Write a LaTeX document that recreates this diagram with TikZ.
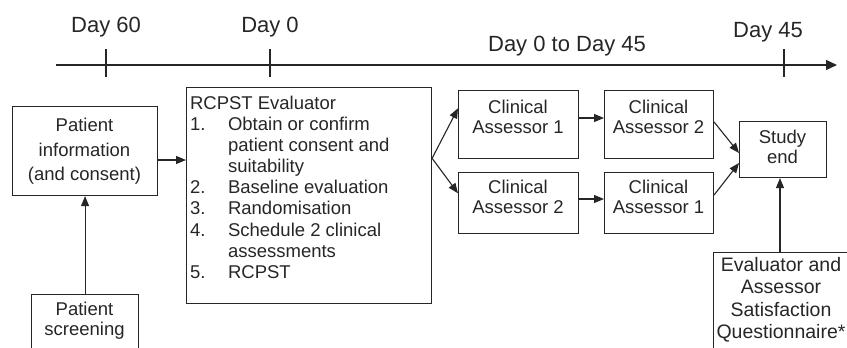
\documentclass[tikz,border=0pt]{standalone}
\usepackage{fontspec}
\setmainfont{Liberation Sans}
\usetikzlibrary{arrows.meta}
\begin{document}
\begin{tikzpicture}[x=1pt,y=-1pt,
  line width=1.1pt, color={black!85},
  box/.style={draw, rectangle, inner sep=0pt, anchor=north west},
  lbl/.style={font=\fontsize{22}{26}\selectfont, anchor=base, inner sep=0pt},
  txt/.style={font=\fontsize{18.5}{20}\selectfont, align=center, inner sep=0pt, anchor=base},
  arr/.style={-{Triangle[length=10pt,width=8pt]}},
  tarr/.style={-{Triangle[length=11pt,width=10pt]}},
]
\clip (0,0) rectangle (847,348);
% timeline
\coordinate (t0) at (56,65);
\coordinate (t1) at (837,65);
\draw[tarr] (t0) -- (t1);
\coordinate (k1a) at (106,49); \coordinate (k1b) at (106,77);
\coordinate (k2a) at (270,49); \coordinate (k2b) at (270,77);
\coordinate (k3a) at (784,49); \coordinate (k3b) at (784,77);
\draw (k1a) -- (k1b);
\draw (k2a) -- (k2b);
\draw (k3a) -- (k3b);
\node[lbl] (d60) at (106,32) {Day 60};
\node[lbl] (d0) at (270,32) {Day 0};
\node[lbl] (d45) at (768,37.5) {Day 45};
\node[lbl] (drange) at (567,51) {Day 0 to Day 45};

% boxes (text nodes anchored at the baseline of their last line)
\node[box, minimum width=145pt, minimum height=89pt] (pi) at (12,106) {};
\node[txt, font=\fontsize{18.5}{24.3}\selectfont] (pit) at (84.5,180.3) {Patient\\information\\(and consent)};

\node[box, minimum width=107pt, minimum height=80pt] (ps) at (31,294) {};
\node[txt] (pst) at (84.5,335) {Patient\\screening};

\node[box, minimum width=245pt, minimum height=216pt] (rc) at (186,87) {};
\node[anchor=base west, inner sep=0pt, align=left, font=\fontsize{18.5}{21.1}\selectfont] (rct) at (189.5,278.2)
{RCPST Evaluator\\
\makebox[38pt][l]{1.}Obtain or confirm\\
\hspace*{38pt}patient consent and\\
\hspace*{38pt}suitability\\
\makebox[38pt][l]{2.}Baseline evaluation\\
\makebox[38pt][l]{3.}Randomisation\\
\makebox[38pt][l]{4.}Schedule 2 clinical\\
\hspace*{38pt}assessments\\
\makebox[38pt][l]{5.}RCPST};

\node[box, minimum width=120pt, minimum height=68pt] (ca1t) at (458,90) {};
\node[txt] (ca1tt) at (518,133) {Clinical\\Assessor 1};
\node[box, minimum width=109pt, minimum height=68pt] (ca2t) at (604,90) {};
\node[txt] (ca2tt) at (658.5,133) {Clinical\\Assessor 2};

\node[box, minimum width=120pt, minimum height=61pt] (ca2b) at (458,172) {};
\node[txt] (ca2bt) at (518,213.5) {Clinical\\Assessor 2};
\node[box, minimum width=109pt, minimum height=61pt] (ca1b) at (604,172) {};
\node[txt] (ca1bt) at (658.5,213.5) {Clinical\\Assessor 1};

\node[box, minimum width=87pt, minimum height=56pt] (se) at (739,121) {};
\node[txt] (set) at (782.5,163.3) {Study\\end};

\node[box, minimum width=160pt, minimum height=120pt] (eq) at (713,252) {};
\node[txt, font=\fontsize{19.5}{22.2}\selectfont] (eqt) at (781,338.3) {Evaluator and\\Assessor\\Satisfaction\\Questionnaire*};

% connectors
\draw[arr] (pi.east |- 0,160) -- (rc.west |- 0,160);
\draw[arr] (ps.north) -- (pi.south);
\draw[arr] (rc.east |- 0,158.3) -- (ca1t.west |- 0,108.3);
\draw[arr] (rc.east |- 0,158.3) -- (ca2b.west |- 0,193.3);
\draw[arr] (ca1t.east |- 0,118) -- (ca2t.west |- 0,118);
\draw[arr] (ca2b.east |- 0,199) -- (ca1b.west |- 0,199);
\draw[arr] (ca2t.east |- 0,122) -- (se.west |- 0,153);
\draw[arr] (ca1b.east |- 0,195) -- (se.west |- 0,163);
\draw[arr] (eq.north -| 780,0) -- (se.south -| 780,0);
\end{tikzpicture}
\end{document}
